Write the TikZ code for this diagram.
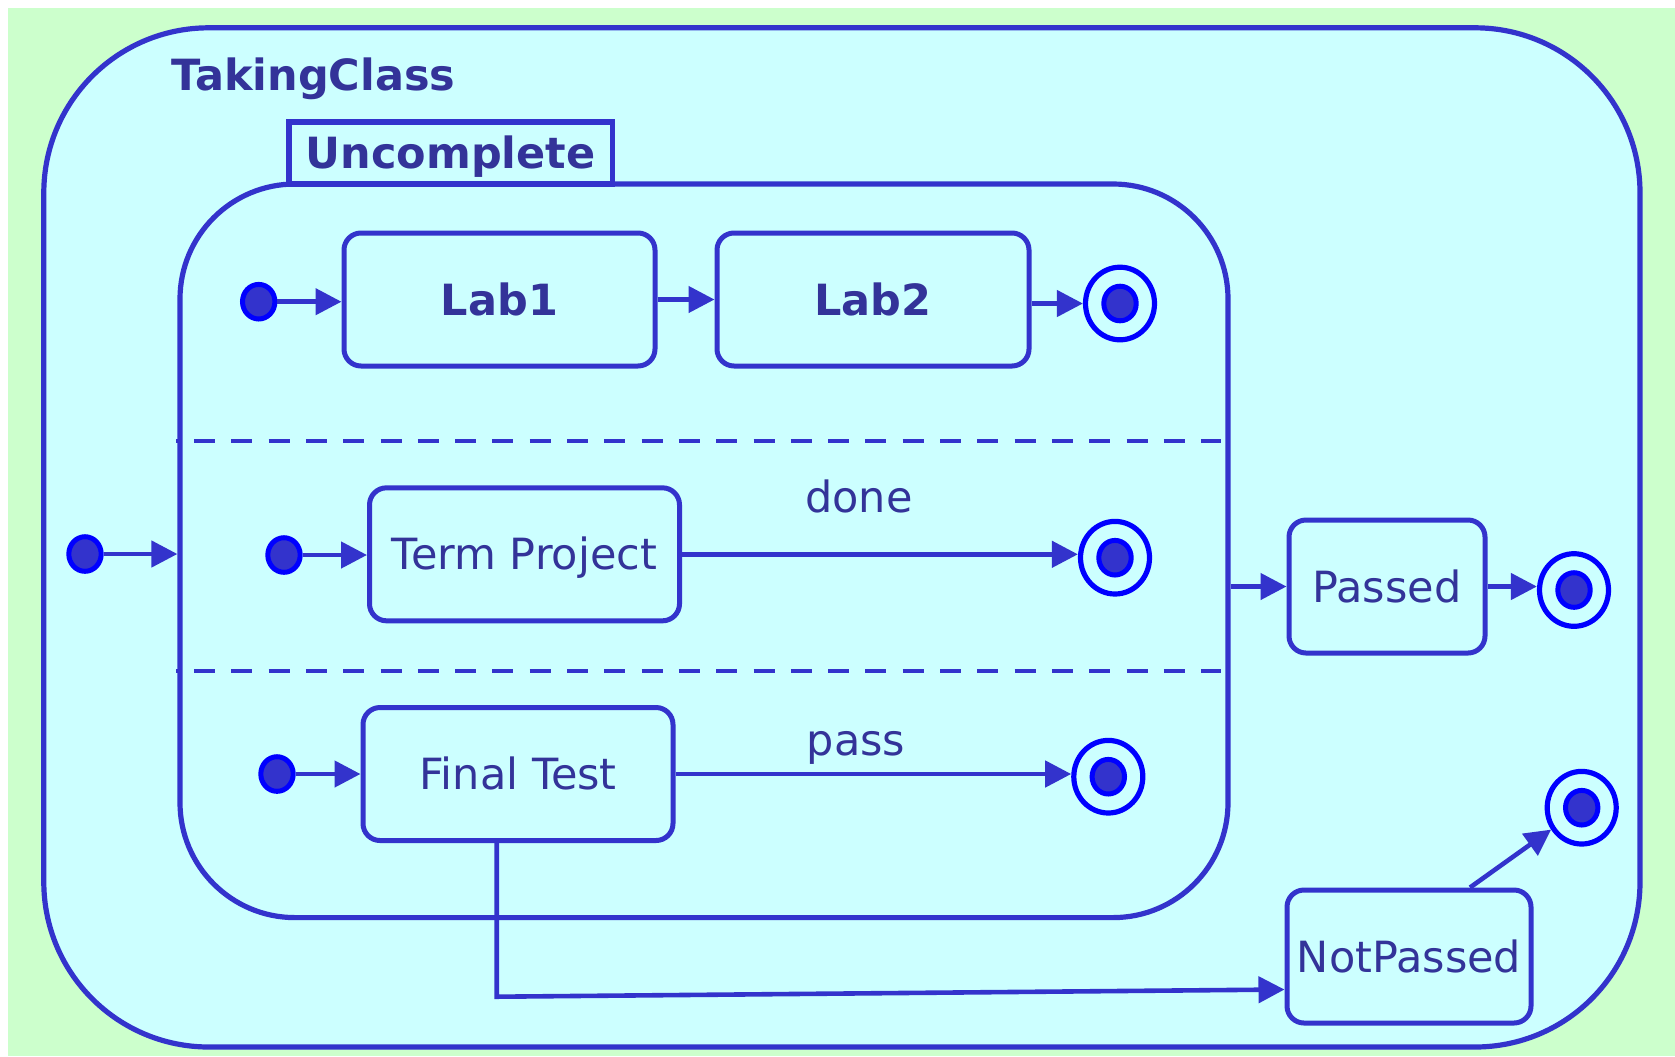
\documentclass[tikz,border=0pt]{standalone}
\usepackage{fontspec}
\setmainfont{DejaVu Sans}
\usetikzlibrary{arrows.meta,shapes.geometric}
\definecolor{bgg}{HTML}{CCFFCC}
\definecolor{cyanf}{HTML}{CCFFFF}
\definecolor{edgec}{HTML}{3333CC}
\definecolor{txtc}{HTML}{333399}
\definecolor{ringc}{HTML}{0000FF}
\tikzset{
  txtfont/.style={font=\fontsize{21.5}{25}\selectfont},
  boldfont/.style={font=\fontsize{21.5}{25}\selectfont\bfseries},
  statebox/.style={draw=edgec, fill=cyanf, line width=2.5pt, rounded corners=8.5pt,
    text=txtc, txtfont, text height=15.6pt, text depth=0pt, inner sep=0pt, minimum height=66.5pt},
  boldbox/.style={statebox, boldfont},
  initdot/.style={ellipse, draw=ringc, fill=edgec, line width=2.5pt,
    minimum width=16.2pt, minimum height=17.3pt, inner sep=0pt},
  finring/.style={ellipse, draw=ringc, fill=cyanf, line width=2.6pt,
    minimum width=34.5pt, minimum height=36.3pt, inner sep=0pt},
  trans/.style={draw=edgec, line width=2.3pt, -{Triangle[length=13pt,width=13pt]}},
  lbl/.style={text=txtc, txtfont, inner sep=0pt, anchor=base},
  container/.style={draw=edgec, fill=cyanf, line width=2.6pt, inner sep=0pt},
  dashline/.style={draw=edgec, line width=2.4pt, dash pattern=on 10.5pt off 8.15pt, dash phase=9.65pt}
}
\begin{document}
\begin{tikzpicture}[x=0.5pt,y=-0.5pt]
\useasboundingbox (0,0) rectangle (1675,1056);
\fill[bgg] (8,8) rectangle (1675,1056);
% outer container
\node[container, rounded corners=82.5pt, minimum width=798.1pt, minimum height=509.6pt] (taking) at (841.9,537.4) {};
\node[anchor=base west, text=txtc, boldfont, inner sep=0pt] (title) at (171,90) {TakingClass};
% inner container
\node[container, rounded corners=57.5pt, minimum width=524pt, minimum height=366.8pt] (unc) at (704,550.8) {};
\node[draw=edgec, fill=cyanf, line width=2.6pt, inner sep=0pt, minimum width=161.75pt, minimum height=31pt,
  text=txtc, boldfont, text height=15.6pt, text depth=0pt] (tab) at (450.7,153) {Uncomplete};
% regions
\draw[dashline] (176,441) -- (1221,441);
\draw[dashline] (176,671) -- (1221,671);
% states
\node[boldbox, minimum width=155.5pt] (lab1) at (499.5,299.5) {Lab1};
\node[boldbox, minimum width=156pt] (lab2) at (873,299.5) {Lab2};
\node[statebox, minimum width=155pt] (tp) at (524.5,554.3) {Term Project};
\node[statebox, minimum width=155pt] (ft) at (518,774) {Final Test};
\node[statebox, minimum width=98pt] (passed) at (1387,586.5) {Passed};
\node[statebox, minimum width=122pt] (np) at (1409,956.5) {NotPassed};
% initial pseudostates
\node[initdot] (i0) at (85,554) {};
\node[initdot] (i1) at (258.7,301.7) {};
\node[initdot] (i2) at (284,555) {};
\node[initdot] (i3) at (277,774) {};
% final states
\node[finring] (f1) at (1120,303.5) {};
\node[initdot] (f1d) at (1120,303.5) {};
\node[finring] (f2) at (1115,557.7) {};
\node[initdot] (f2d) at (1115,557.7) {};
\node[finring] (f3) at (1108.3,776.7) {};
\node[initdot] (f3d) at (1108.3,776.7) {};
\node[finring] (f4) at (1574,590) {};
\node[initdot] (f4d) at (1574,590) {};
\node[finring] (f5) at (1581.7,807.7) {};
\node[initdot] (f5d) at (1581.7,807.7) {};
% transitions
\draw[trans] (i1.east) -- (i1 -| lab1.west);
\draw[trans] (lab1.east) -- (lab2.west);
\draw[trans] (lab2.east |- f1) -- (f1.west);
\draw[trans] (i2.east) -- (i2 -| tp.west);
\draw[trans] (tp.east) -- (tp.east -| f2.west);
\node[lbl] (done) at (859,512.7) {done};
\draw[trans] (i3.east) -- (i3 -| ft.west);
\draw[trans] (ft.east) -- (ft.east -| f3.west);
\node[lbl] (pass) at (856,755) {pass};
\draw[trans] (i0.east) -- (i0 -| unc.west);
\draw[trans] (unc.east |- passed) -- (passed.west);
\draw[trans] (passed.east) -- (passed.east -| f4.west);
\coordinate (ftb) at ([xshift=-10.65pt]ft.south);
\coordinate (bend) at (496.7,996.7);
\coordinate (npin) at ([yshift=-16.5pt]np.west);
\draw[trans] (ftb) -- (bend) -- (npin);
\coordinate (nptop) at ([xshift=30.5pt]np.north);
\draw[trans] (nptop) -- (f5);
\end{tikzpicture}
\end{document}
